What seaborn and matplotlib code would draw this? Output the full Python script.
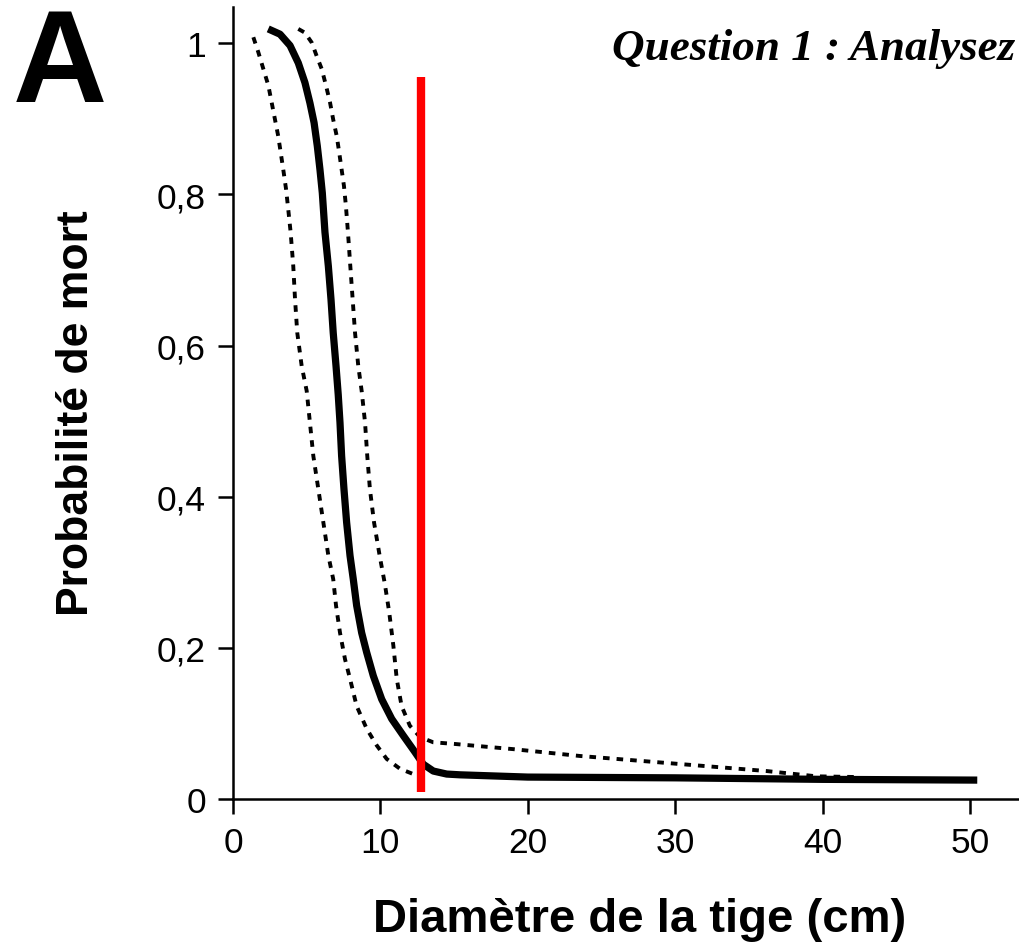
import matplotlib
matplotlib.use("Agg")
import matplotlib.pyplot as plt
import seaborn as sns
import pandas as pd

# ---- data ----
main_x = [2.39, 3.19, 3.87, 4.43, 4.88, 5.22, 5.5, 5.72, 5.9, 6.06, 6.24, 6.47,
          6.65, 6.8, 6.99, 7.14, 7.26, 7.37, 7.53, 7.71, 7.94, 8.16, 8.39, 8.73,
          9.07, 9.52, 10.09, 10.77, 11.55, 12.35, 12.91, 13.59, 14.5, 15.4,
          20, 30, 40, 50.5]
main_y = [1.019, 1.012, 0.997, 0.974, 0.948, 0.921, 0.895, 0.864, 0.833, 0.802,
          0.750, 0.705, 0.661, 0.617, 0.573, 0.535, 0.498, 0.454, 0.410, 0.366,
          0.322, 0.291, 0.256, 0.220, 0.194, 0.163, 0.132, 0.106, 0.084, 0.062,
          0.046, 0.037, 0.033, 0.032, 0.029, 0.028, 0.026, 0.025]

upper_x = [4.43, 4.88, 5.34, 5.68, 6.02, 6.31, 6.58, 6.80, 7.04, 7.21, 7.37,
           7.53, 7.66, 7.8, 7.96, 8.12, 8.28, 8.5, 8.73, 8.96, 9.11, 9.29,
           9.57, 9.95, 10.3, 10.6, 10.88, 11.11, 11.44, 12.0, 12.69, 13.59,
           14.95, 19.0, 23.5, 30.5, 36.2, 39.6, 42.5]
upper_y = [1.019, 1.014, 1.001, 0.983, 0.966, 0.944, 0.922, 0.899, 0.877, 0.855,
           0.833, 0.811, 0.785, 0.750, 0.705, 0.661, 0.617, 0.573, 0.540, 0.498,
           0.454, 0.410, 0.366, 0.322, 0.285, 0.247, 0.203, 0.159, 0.123, 0.097,
           0.082, 0.075, 0.073, 0.066, 0.057, 0.046, 0.037, 0.030, 0.029]

lower_x = [1.38, 1.72, 2.06, 2.40, 2.62, 2.85, 3.07, 3.24, 3.41, 3.60, 3.75,
           3.91, 4.09, 4.21, 4.36, 4.66, 5.0, 5.22, 5.45, 5.79, 6.13, 6.47,
           6.80, 6.99, 7.26, 7.60, 7.94, 8.39, 9.07, 9.75, 10.43, 11.33, 12.23,
           12.6]
lower_y = [1.008, 0.988, 0.966, 0.944, 0.922, 0.899, 0.877, 0.855, 0.833, 0.807,
           0.780, 0.750, 0.705, 0.661, 0.617, 0.573, 0.540, 0.498, 0.454, 0.410,
           0.366, 0.322, 0.291, 0.256, 0.220, 0.185, 0.159, 0.123, 0.093, 0.071,
           0.053, 0.040, 0.033, 0.031]

threshold_x = [12.75, 12.75]
threshold_y = [0.009, 0.955]

x_ticks = [0, 10, 20, 30, 40, 50]
x_ticklabels = ["0", "10", "20", "30", "40", "50"]
y_ticks = [0, 0.2, 0.4, 0.6, 0.8, 1.0]
y_ticklabels = ["0", "0,2", "0,4", "0,6", "0,8", "1"]

sns.set_style("ticks")
plt.rcParams["font.family"] = ["Liberation Sans", "DejaVu Sans"]
plt.rcParams["text.color"] = "black"

fig = plt.figure(figsize=(10.2, 9.45), dpi=100)
ax = fig.add_axes([233 / 1020, 1 - 800 / 945, 787 / 1020, 792 / 945])

main_df = pd.DataFrame({"x": main_x, "y": main_y})
up_df = pd.DataFrame({"x": upper_x, "y": upper_y})
lo_df = pd.DataFrame({"x": lower_x, "y": lower_y})

sns.lineplot(data=lo_df, x="x", y="y", ax=ax, sort=False, estimator=None,
             color="black", linewidth=2.8)
sns.lineplot(data=up_df, x="x", y="y", ax=ax, sort=False, estimator=None,
             color="black", linewidth=2.8)
for ln in ax.lines:
    ln.set_dashes((1.7, 1.8))
    ln.set_dash_capstyle("butt")
    ln.set_dash_joinstyle("round")
sns.lineplot(data=main_df, x="x", y="y", ax=ax, sort=False, estimator=None,
             color="black", linewidth=5.2)
ax.lines[-1].set_solid_capstyle("butt")
ax.lines[-1].set_solid_joinstyle("round")
ax.plot(threshold_x, threshold_y, color="#ff0000", linewidth=6.0,
        solid_capstyle="butt", zorder=5)

ax.set_xlim(0, 53.4)
ax.set_ylim(0, 1.048)
ax.set_xticks(x_ticks)
ax.set_xticklabels(x_ticklabels)
ax.set_yticks(y_ticks)
ax.set_yticklabels(y_ticklabels)
ax.tick_params(axis="both", direction="out", length=10.5, width=1.8,
               labelsize=25.5, pad=9, colors="black")
for side in ["top", "right"]:
    ax.spines[side].set_visible(False)
for side in ["left", "bottom"]:
    ax.spines[side].set_linewidth(1.8)
    ax.spines[side].set_color("black")

ax.set_xlabel("")
ax.set_ylabel("")
fig.text(640 / 1020, 1 - 932 / 945, "Diamètre de la tige (cm)", ha="center",
         va="baseline", fontsize=34, fontweight="bold", color="black")
fig.text(77 / 1020, 1 - 413 / 945, "Probabilité de mort", ha="center",
         va="center", rotation=90, fontsize=32, fontweight="bold",
         color="black")
fig.text(13 / 1020, 1 - 102 / 945, "A", ha="left", va="baseline",
         fontsize=94, fontweight="bold", color="black")
fig.text(1015 / 1020, 1 - 60 / 945, "Question 1 : Analysez", ha="right",
         va="baseline", fontsize=32.5, fontweight="bold", fontstyle="italic",
         family=["Liberation Serif", "DejaVu Serif"], color="black")

fig.savefig("out.png", dpi=100, facecolor="white")
